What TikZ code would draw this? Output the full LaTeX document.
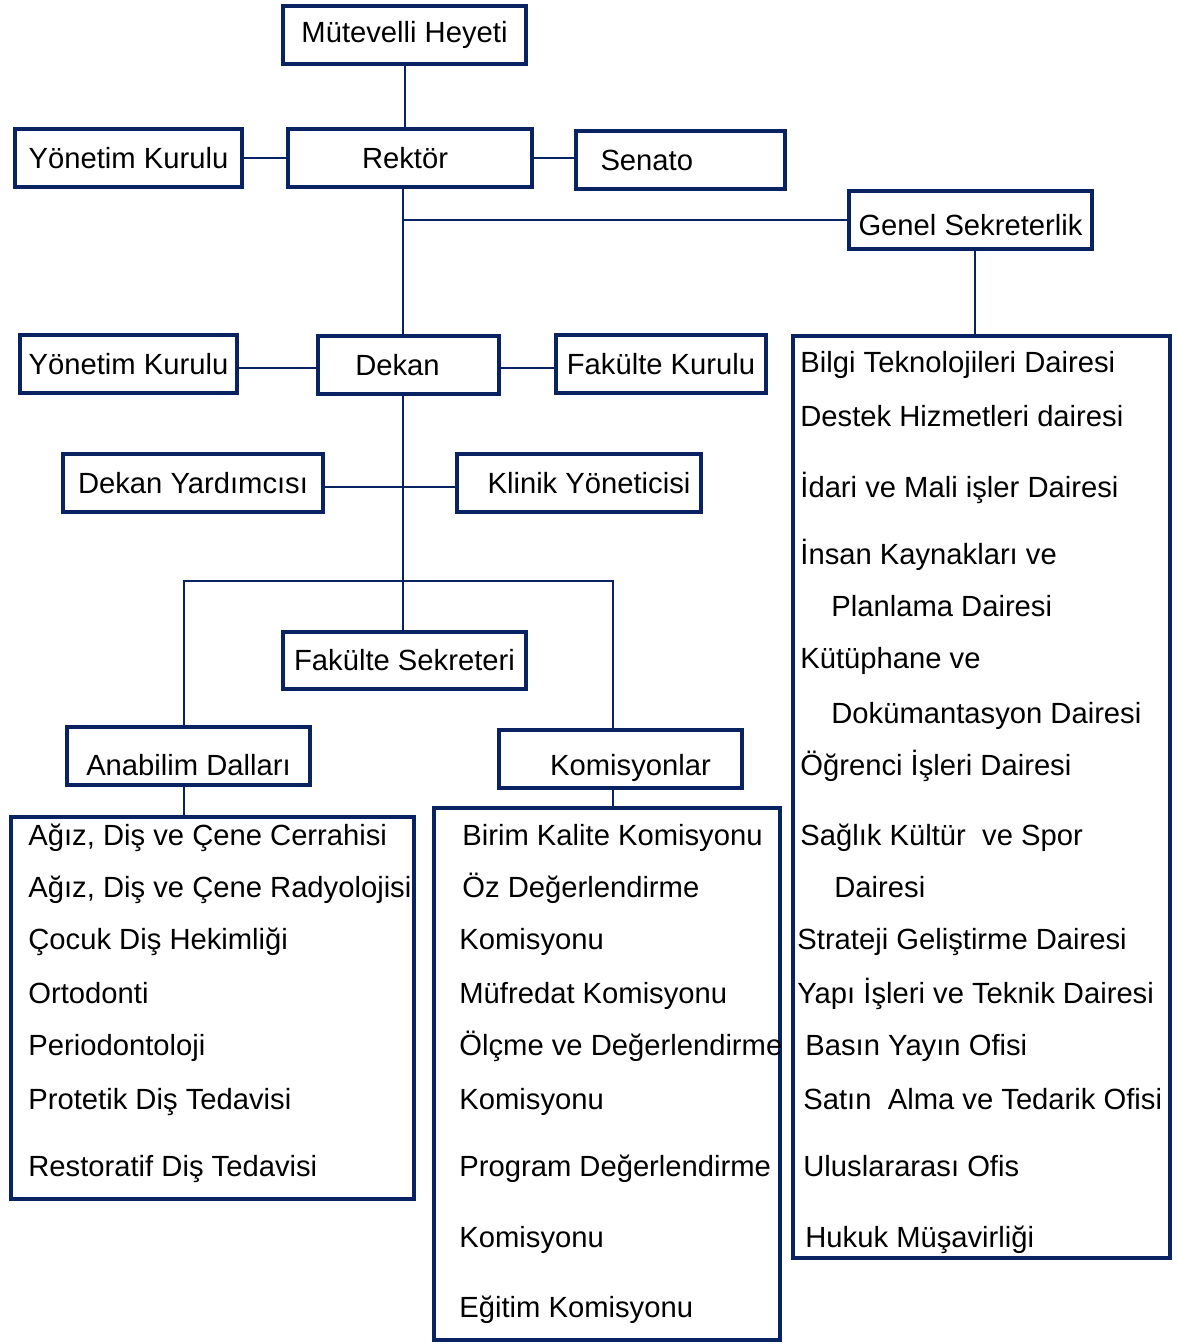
\documentclass[tikz,border=0pt]{standalone}
\usepackage{fontspec}
\setmainfont{Liberation Sans}
\usetikzlibrary{calc,positioning}

\definecolor{navy}{RGB}{8,34,98}
\newcommand{\orgfont}{\fontsize{14.6}{17}\selectfont}

\tikzset{
  box/.style={draw=navy,line width=2.2pt,minimum height=29pt,inner sep=0pt,font=\orgfont},
  lowtext/.style={text height=#1,text depth=0pt},
  listbox/.style={draw=navy,line width=2.2pt,inner sep=0pt},
  item/.style={anchor=base west,inner sep=0pt,font=\orgfont},
  link/.style={draw=navy,line width=1pt}
}

\begin{document}
\begin{tikzpicture}[x=0.5pt,y=-0.5pt]
\useasboundingbox (0,0) rectangle (1178,1344);

% upper level
\node[box,minimum width=121.5pt] (mh) at (404.5,35) {Mütevelli Heyeti};
\node[box,minimum width=113.5pt] (yk1) at (128.5,158) {Yönetim Kurulu};
\node[box,minimum width=122pt] (rektor) at (410,158) {Rektör\kern5pt};
\node[box,minimum width=104.5pt,text width=80pt,align=left] (senato) at (680.5,160) {Senato};
\node[box,minimum width=121.5pt,lowtext=15.5pt] (genel) at (970.5,220) {Genel Sekreterlik};

% faculty level
\node[box,minimum width=108.5pt] (yk2) at (128.5,364) {Yönetim Kurulu};
\node[box,minimum width=90.5pt] (dekan) at (408.5,365) {Dekan\kern11pt};
\node[box,minimum width=105pt] (fk) at (661,364) {Fakülte Kurulu};
\node[box,minimum width=130pt] (dy) at (193,483) {Dekan Yardımcısı};
\node[box,minimum width=122pt] (kly) at (579,483) {\kern10pt Klinik Yöneticisi};
\node[box,minimum width=121.5pt,minimum height=28.5pt] (fs) at (404.5,660.5) {Fakülte Sekreteri};
\node[box,minimum width=121.5pt,lowtext=19.5pt] (ad) at (188.5,756) {Anabilim Dalları};
\node[box,minimum width=121.5pt,lowtext=16.5pt] (kom) at (620.5,759) {\kern10pt Komisyonlar};

% list frames
\node[listbox,minimum width=201.5pt,minimum height=191pt] (anab) at (212.5,1008) {};
\node[listbox,minimum width=173pt,minimum height=266pt] (komlist) at (607,1074) {};
\node[listbox,minimum width=188.5pt,minimum height=461pt] (daire) at (981.5,797) {};

% spine points
\coordinate (s1) at (403,220);
\coordinate (s2) at (403,487);
\coordinate (s3) at (403,581);

% connectors
\draw[link] (mh.south) -- (mh.south |- rektor.north);
\draw[link] (yk1.east) -- (rektor.west);
\draw[link] (rektor.east) -- (rektor.east -| senato.west);
\draw[link] (s1 |- rektor.south) -- (s1 |- dekan.north);
\draw[link] (s1) -- (genel.west);
\draw[link] ($(genel.south)+(4,0)$) -- ($(genel.south |- daire.north)+(4,0)$);
\draw[link] (yk2.east |- 0,368) -- (dekan.west |- 0,368);
\draw[link] (dekan.east |- 0,368) -- (fk.west |- 0,368);
\draw[link] (s2 |- dekan.south) -- (s2 |- fs.north);
\draw[link] (dy.east |- s2) -- (kly.west |- s2);
\draw[link] (ad.north -| 184,0) |- (s3) -| (kom.north -| 613,0);
\draw[link] (ad.south -| 184,0) -- (anab.north -| 184,0);
\draw[link] (kom.south -| 613,0) -- (komlist.north -| 613,0);

% departments
\node[item] (a1) at (28,845) {Ağız, Diş ve Çene Cerrahisi};
\node[item] (a2) at (28,897) {Ağız, Diş ve Çene Radyolojisi};
\node[item] (a3) at (28,949) {Çocuk Diş Hekimliği};
\node[item] (a4) at (28,1003) {Ortodonti};
\node[item] (a5) at (28,1055) {Periodontoloji};
\node[item] (a6) at (28,1109) {Protetik Diş Tedavisi};
\node[item] (a7) at (28,1176) {Restoratif Diş Tedavisi};

% commissions
\node[item] (k1) at (462,845) {Birim Kalite Komisyonu};
\node[item] (k2) at (462,897) {Öz Değerlendirme};
\node[item] (k3) at (459,949) {Komisyonu};
\node[item] (k4) at (459,1003) {Müfredat Komisyonu};
\node[item] (k5) at (459,1055) {Ölçme ve Değerlendirme};
\node[item] (k6) at (459,1109) {Komisyonu};
\node[item] (k7) at (459,1176) {Program Değerlendirme};
\node[item] (k8) at (459,1247) {Komisyonu};
\node[item] (k9) at (459,1317) {Eğitim Komisyonu};

% general secretariat units
\node[item] (d1) at (800,372) {Bilgi Teknolojileri Dairesi};
\node[item] (d2) at (800,426) {Destek Hizmetleri dairesi};
\node[item] (d3) at (800,497) {İdari ve Mali işler Dairesi};
\node[item] (d4) at (800,564) {İnsan Kaynakları ve};
\node[item] (d5) at (831,616) {Planlama Dairesi};
\node[item] (d6) at (800,668) {Kütüphane ve};
\node[item] (d7) at (831,723) {Dokümantasyon Dairesi};
\node[item] (d8) at (800,775) {Öğrenci İşleri Dairesi};
\node[item] (d9) at (800,845) {Sağlık Kültür\ \ ve Spor};
\node[item] (d10) at (834,897) {Dairesi};
\node[item] (d11) at (797,949) {Strateji Geliştirme Dairesi};
\node[item] (d12) at (797,1003) {Yapı İşleri ve Teknik Dairesi};
\node[item] (d13) at (805,1055) {Basın Yayın Ofisi};
\node[item] (d14) at (803,1109) {Satın\ \ Alma ve Tedarik Ofisi};
\node[item] (d15) at (803,1176) {Uluslararası Ofis};
\node[item] (d16) at (805,1247) {Hukuk Müşavirliği};
\end{tikzpicture}
\end{document}
